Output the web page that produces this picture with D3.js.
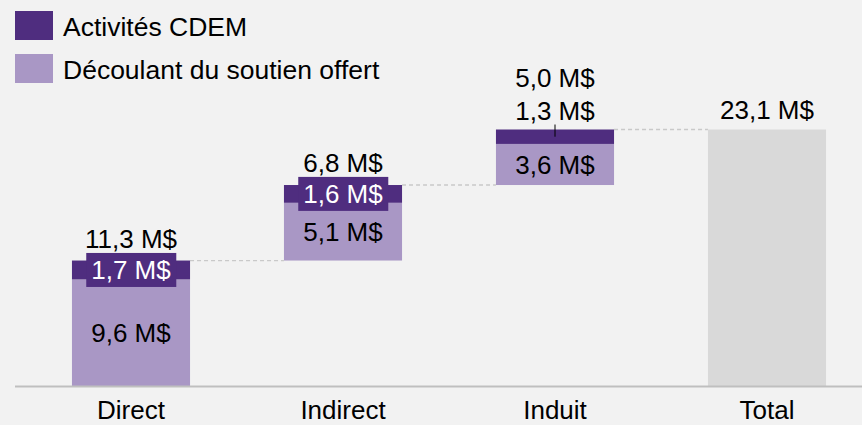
<!DOCTYPE html>
<html>
<head>
<meta charset="utf-8">
<script src="https://cdn.jsdelivr.net/npm/d3@7/dist/d3.min.js"></script>
<style>
  body { margin: 0; background: #f2f2f2; }
  svg { display: block; font-family: "Liberation Sans", Arial, sans-serif; }
</style>
</head>
<body>
<div id="chart"></div>
<script>
// data
const categories = ['Direct', 'Indirect', 'Induit', 'Total'];
const totals = [11.3, 6.8, 5.0, 23.1];
const cdem = [1.7, 1.6, 1.3, null];      // Activités CDEM
const soutien = [9.6, 5.1, 3.6, null];   // Découlant du soutien offert
const legendLabels = ['Activités CDEM', 'Découlant du soutien offert'];

const width = 862, height = 425;
const dark = '#4f2d7f', light = '#a997c5', grey = '#d9d9d9';
const fmt = v => d3.format('.1f')(v).replace('.', ',') + ' M$';

const svg = d3.select('#chart').append('svg')
  .attr('width', width)
  .attr('height', height);

const x = d3.scaleBand()
  .domain(categories)
  .range([25, 873])
  .paddingInner(0.443)
  .paddingOuter(0.2215);

const y = d3.scaleLinear()
  .domain([0, 23.1])
  .range([386, 129.5]);

// running base of each step in the waterfall
let acc = 0;
const steps = categories.map((c, i) => {
  const isTotal = i === categories.length - 1;
  const base = isTotal ? 0 : acc;
  const top = base + totals[i];
  if (!isTotal) acc = top;
  return { cat: c, base, top, total: totals[i], cdem: cdem[i], soutien: soutien[i], isTotal };
});

// dashed connectors
steps.slice(0, -1).forEach((d, i) => {
  const next = steps[i + 1];
  svg.append('line')
    .attr('x1', x(d.cat) + x.bandwidth())
    .attr('x2', x(next.cat))
    .attr('y1', y(d.top)).attr('y2', y(d.top))
    .attr('stroke', '#c9c9c9')
    .attr('stroke-width', 1.3)
    .attr('stroke-dasharray', '4,3');
});

const g = svg.selectAll('.step').data(steps).enter().append('g').attr('class', 'step');

// total bar
g.filter(d => d.isTotal).append('rect')
  .attr('x', d => x(d.cat))
  .attr('width', x.bandwidth())
  .attr('y', d => y(d.top))
  .attr('height', d => y(d.base) - y(d.top))
  .attr('fill', grey);

const stacked = g.filter(d => !d.isTotal);

// lower part: soutien
stacked.append('rect')
  .attr('x', d => x(d.cat))
  .attr('width', x.bandwidth())
  .attr('y', d => y(d.top - d.cdem))
  .attr('height', d => y(d.base) - y(d.top - d.cdem))
  .attr('fill', light);

// upper part: CDEM
stacked.append('rect')
  .attr('x', d => x(d.cat))
  .attr('width', x.bandwidth())
  .attr('y', d => y(d.top))
  .attr('height', d => y(d.top - d.cdem) - y(d.top))
  .attr('fill', dark);

const fs = 26;
const cx = d => x(d.cat) + x.bandwidth() / 2;

// soutien labels
stacked.append('text')
  .attr('x', cx)
  .attr('y', d => (y(d.base) + y(d.top - d.cdem)) / 2)
  .attr('dy', '0.35em')
  .attr('text-anchor', 'middle')
  .attr('font-size', fs)
  .attr('fill', '#000')
  .text(d => fmt(d.soutien));

// CDEM labels: inside a dark box when the segment is big enough, else above with a tick
stacked.each(function(d) {
  const sel = d3.select(this);
  const segH = y(d.top - d.cdem) - y(d.top);
  const mid = (y(d.top) + y(d.top - d.cdem)) / 2;
  if (segH > 16) {
    const t = sel.append('text')
      .attr('x', cx(d))
      .attr('y', mid)
      .attr('dy', '0.35em')
      .attr('text-anchor', 'middle')
      .attr('font-size', fs)
      .attr('fill', '#fff')
      .text(fmt(d.cdem));
    const bb = t.node().getBBox();
    sel.insert('rect', 'text')
      .attr('x', bb.x - 5)
      .attr('width', bb.width + 10)
      .attr('y', mid - 17)
      .attr('height', 34)
      .attr('fill', dark);
    sel.append('text')
      .attr('x', cx(d))
      .attr('y', mid - 17 - 5)
      .attr('text-anchor', 'middle')
      .attr('font-size', fs)
      .text(fmt(d.total));
  } else {
    sel.append('line')
      .attr('x1', cx(d)).attr('x2', cx(d))
      .attr('y1', y(d.top) - 5).attr('y2', mid)
      .attr('stroke', '#000')
      .attr('stroke-width', 1);
    sel.append('text')
      .attr('x', cx(d))
      .attr('y', y(d.top) - 10)
      .attr('text-anchor', 'middle')
      .attr('font-size', fs)
      .text(fmt(d.cdem));
    sel.append('text')
      .attr('x', cx(d))
      .attr('y', y(d.top) - 43)
      .attr('text-anchor', 'middle')
      .attr('font-size', fs)
      .text(fmt(d.total));
  }
});

// total label
g.filter(d => d.isTotal).append('text')
  .attr('x', cx)
  .attr('y', d => y(d.top) - 11)
  .attr('text-anchor', 'middle')
  .attr('font-size', fs)
  .text(d => fmt(d.total));

// x axis
const xAxis = svg.append('g')
  .attr('transform', 'translate(0,386)')
  .call(d3.axisBottom(x).tickSize(0).tickPadding(15));
xAxis.select('.domain').remove();
xAxis.selectAll('text')
  .attr('font-size', fs)
  .attr('font-family', '"Liberation Sans", Arial, sans-serif')
  .attr('fill', '#000');
svg.append('line')
  .attr('x1', 15).attr('x2', width)
  .attr('y1', 386.5).attr('y2', 386.5)
  .attr('stroke', '#bfbfbf')
  .attr('stroke-width', 2);

// legend
const legend = svg.append('g').attr('transform', 'translate(15,11)');
legendLabels.forEach((lab, i) => {
  legend.append('rect')
    .attr('x', 0).attr('y', i * 43)
    .attr('width', 38).attr('height', 29)
    .attr('fill', i === 0 ? dark : light);
  legend.append('text')
    .attr('x', 48).attr('y', i * 43 + 25)
    .attr('font-size', 26.5)
    .text(lab);
});
</script>
</body>
</html>
